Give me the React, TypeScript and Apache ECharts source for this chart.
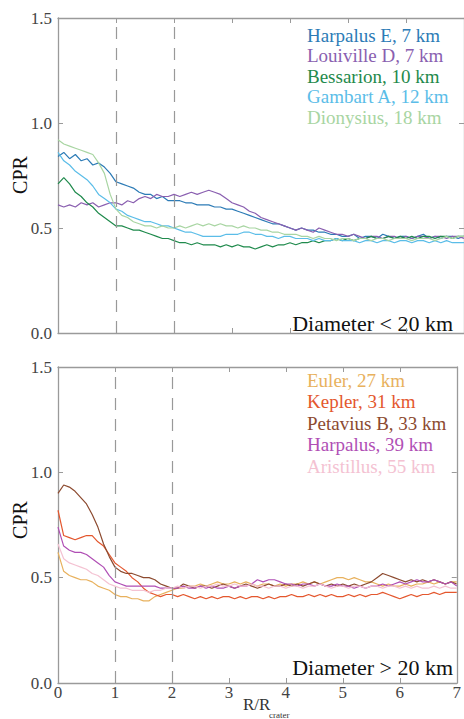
import React, { useEffect, useRef } from "react";
import * as echarts from "echarts";

// sample spacing along R/R_crater: 0.0, 0.1, ... 7.0
const xTicks = ["0", "1", "2", "3", "4", "5", "6", "7"];
const yTicks = ["0.0", "0.5", "1.0", "1.5"];

// ---- Diameter < 20 km ----
const harpalusE = [
  0.84, 0.86, 0.83, 0.85, 0.82, 0.83, 0.80, 0.81, 0.79, 0.76,
  0.72, 0.71, 0.70, 0.69, 0.67, 0.66, 0.66, 0.64, 0.65, 0.63,
  0.63, 0.63, 0.62, 0.62, 0.61, 0.61, 0.61, 0.60, 0.60, 0.59,
  0.59, 0.58, 0.57, 0.56, 0.55, 0.54, 0.53, 0.52, 0.52, 0.51,
  0.50, 0.49, 0.50, 0.49, 0.49, 0.48, 0.48, 0.47, 0.47, 0.46,
  0.46, 0.47, 0.45, 0.46, 0.46, 0.45, 0.47, 0.46, 0.45, 0.46,
  0.46, 0.45, 0.46, 0.47, 0.45, 0.46, 0.45, 0.46, 0.46, 0.45, 0.46,
];
const louivilleD = [
  0.61, 0.60, 0.61, 0.60, 0.62, 0.61, 0.62, 0.60, 0.61, 0.62,
  0.62, 0.61, 0.63, 0.62, 0.64, 0.65, 0.64, 0.66, 0.65, 0.65,
  0.66, 0.65, 0.66, 0.67, 0.66, 0.67, 0.68, 0.67, 0.66, 0.64,
  0.62, 0.61, 0.60, 0.58, 0.57, 0.55, 0.54, 0.53, 0.52, 0.51,
  0.50, 0.49, 0.50, 0.49, 0.48, 0.50, 0.49, 0.48, 0.47, 0.47,
  0.46, 0.47, 0.46, 0.45, 0.46, 0.46, 0.45, 0.46, 0.46, 0.45,
  0.46, 0.45, 0.46, 0.46, 0.45, 0.46, 0.46, 0.45, 0.46, 0.46, 0.45,
];
const bessarion = [
  0.71, 0.74, 0.71, 0.67, 0.65, 0.62, 0.60, 0.57, 0.55, 0.53,
  0.51, 0.51, 0.50, 0.49, 0.49, 0.48, 0.47, 0.46, 0.45, 0.45,
  0.44, 0.43, 0.43, 0.42, 0.43, 0.42, 0.42, 0.42, 0.41, 0.42,
  0.41, 0.42, 0.41, 0.41, 0.40, 0.41, 0.42, 0.41, 0.42, 0.42,
  0.43, 0.42, 0.43, 0.43, 0.44, 0.43, 0.44, 0.44, 0.45, 0.44,
  0.45, 0.44, 0.45, 0.45, 0.46, 0.45, 0.45, 0.46, 0.45, 0.46,
  0.45, 0.46, 0.45, 0.46, 0.46, 0.45, 0.46, 0.46, 0.45, 0.46, 0.46,
];
const gambartA = [
  0.86, 0.82, 0.80, 0.77, 0.75, 0.73, 0.70, 0.66, 0.64, 0.62,
  0.59, 0.58, 0.56, 0.55, 0.54, 0.53, 0.53, 0.52, 0.51, 0.51,
  0.50, 0.49, 0.48, 0.48, 0.47, 0.46, 0.46, 0.46, 0.46, 0.47,
  0.47, 0.47, 0.48, 0.48, 0.47, 0.47, 0.46, 0.46, 0.45, 0.46,
  0.46, 0.45, 0.45, 0.45, 0.44, 0.45, 0.44, 0.44, 0.45, 0.44,
  0.44, 0.44, 0.43, 0.44, 0.44, 0.43, 0.44, 0.44, 0.43, 0.44,
  0.44, 0.43, 0.44, 0.44, 0.43, 0.44, 0.43, 0.44, 0.43, 0.43, 0.43,
];
const dionysius = [
  0.92, 0.90, 0.89, 0.88, 0.87, 0.86, 0.85, 0.81, 0.76, 0.66,
  0.59, 0.56, 0.55, 0.53, 0.52, 0.51, 0.51, 0.50, 0.51, 0.50,
  0.50, 0.51, 0.50, 0.51, 0.52, 0.51, 0.52, 0.51, 0.52, 0.51,
  0.51, 0.50, 0.51, 0.50, 0.50, 0.49, 0.49, 0.48, 0.48, 0.47,
  0.47, 0.47, 0.46, 0.46, 0.45, 0.46, 0.45, 0.45, 0.44, 0.45,
  0.45, 0.44, 0.45, 0.45, 0.44, 0.45, 0.45, 0.44, 0.45, 0.45,
  0.45, 0.44, 0.45, 0.45, 0.45, 0.44, 0.45, 0.46, 0.45, 0.46, 0.46,
];

// ---- Diameter > 20 km ----
const euler = [
  0.62, 0.53, 0.51, 0.50, 0.49, 0.49, 0.48, 0.46, 0.45, 0.44,
  0.42, 0.41, 0.41, 0.40, 0.40, 0.39, 0.39, 0.41, 0.42, 0.43,
  0.44, 0.45, 0.45, 0.46, 0.46, 0.47, 0.46, 0.47, 0.48, 0.47,
  0.47, 0.48, 0.47, 0.48, 0.47, 0.46, 0.47, 0.47, 0.46, 0.47,
  0.46, 0.47, 0.47, 0.48, 0.47, 0.48, 0.47, 0.48, 0.49, 0.50,
  0.50, 0.49, 0.50, 0.49, 0.48, 0.48, 0.47, 0.46, 0.47, 0.46,
  0.46, 0.47, 0.46, 0.47, 0.47, 0.48, 0.47, 0.48, 0.47, 0.48, 0.48,
];
const kepler = [
  0.82, 0.70, 0.69, 0.68, 0.69, 0.70, 0.70, 0.67, 0.65, 0.61,
  0.57, 0.55, 0.53, 0.50, 0.48, 0.45, 0.43, 0.42, 0.41, 0.42,
  0.42, 0.41, 0.42, 0.41, 0.40, 0.41, 0.40, 0.41, 0.40, 0.41,
  0.41, 0.40, 0.41, 0.40, 0.41, 0.41, 0.40, 0.41, 0.40, 0.41,
  0.41, 0.42, 0.41, 0.41, 0.42, 0.41, 0.42, 0.41, 0.42, 0.41,
  0.41, 0.42, 0.41, 0.42, 0.41, 0.42, 0.42, 0.43, 0.42, 0.41,
  0.40, 0.41, 0.42, 0.41, 0.42, 0.42, 0.43, 0.42, 0.43, 0.43, 0.43,
];
const petaviusB = [
  0.90, 0.94, 0.93, 0.91, 0.88, 0.85, 0.80, 0.74, 0.66, 0.60,
  0.55, 0.53, 0.52, 0.52, 0.51, 0.50, 0.50, 0.49, 0.47, 0.46,
  0.45, 0.45, 0.47, 0.46, 0.45, 0.46, 0.46, 0.45, 0.46, 0.47,
  0.46, 0.45, 0.46, 0.47, 0.46, 0.45, 0.46, 0.47, 0.46, 0.46,
  0.47, 0.46, 0.47, 0.46, 0.47, 0.48, 0.47, 0.46, 0.47, 0.46,
  0.47, 0.46, 0.47, 0.46, 0.47, 0.48, 0.50, 0.52, 0.51, 0.50,
  0.49, 0.48, 0.49, 0.48, 0.49, 0.48, 0.49, 0.48, 0.47, 0.48, 0.47,
];
const harpalus = [
  0.74, 0.65, 0.63, 0.62, 0.62, 0.61, 0.59, 0.57, 0.55, 0.51,
  0.48, 0.47, 0.46, 0.46, 0.46, 0.46, 0.46, 0.46, 0.45, 0.45,
  0.45, 0.45, 0.46, 0.45, 0.45, 0.46, 0.45, 0.46, 0.45, 0.45,
  0.46, 0.45, 0.46, 0.46, 0.47, 0.49, 0.48, 0.49, 0.49, 0.48,
  0.47, 0.47, 0.46, 0.47, 0.47, 0.46, 0.47, 0.46, 0.46, 0.47,
  0.46, 0.46, 0.45, 0.46, 0.45, 0.46, 0.46, 0.47, 0.46, 0.47,
  0.48, 0.47, 0.48, 0.49, 0.48, 0.48, 0.49, 0.48, 0.47, 0.48, 0.46,
];
const aristillus = [
  0.66, 0.59, 0.57, 0.56, 0.55, 0.54, 0.52, 0.51, 0.49, 0.47,
  0.46, 0.45, 0.45, 0.44, 0.44, 0.44, 0.43, 0.44, 0.44, 0.45,
  0.45, 0.46, 0.45, 0.46, 0.46, 0.45, 0.46, 0.46, 0.47, 0.46,
  0.46, 0.47, 0.46, 0.46, 0.47, 0.46, 0.46, 0.45, 0.46, 0.46,
  0.45, 0.46, 0.46, 0.45, 0.46, 0.46, 0.47, 0.46, 0.45, 0.46,
  0.46, 0.45, 0.46, 0.46, 0.45, 0.46, 0.46, 0.45, 0.46, 0.46,
  0.45, 0.46, 0.45, 0.46, 0.45, 0.45, 0.46, 0.45, 0.46, 0.45, 0.45,
];

const smallNames = ["Harpalus E, 7 km", "Louiville D, 7 km", "Bessarion, 10 km", "Gambart A, 12 km", "Dionysius, 18 km"];
const smallColors = ["#2c7bb6", "#8a5fb0", "#1f8a4c", "#5bbde8", "#a8d5a2"];
const smallData = [harpalusE, louivilleD, bessarion, gambartA, dionysius];

const largeNames = ["Euler, 27 km", "Kepler, 31 km", "Petavius B, 33 km", "Harpalus, 39 km", "Aristillus, 55 km"];
const largeColors = ["#e8b15d", "#e4572e", "#8c4a2f", "#b04fb5", "#f4c2d2"];
const largeData = [euler, kepler, petaviusB, harpalus, aristillus];

const panelLabels = ["Diameter < 20 km", "Diameter > 20 km"];

const SERIF = "Liberation Serif";
const AXIS_COLOR = "#9a9a9a";

export default function App() {
  const ref = useRef<HTMLDivElement>(null);

  useEffect(() => {
    if (!ref.current) return;
    const chart = echarts.init(ref.current, null, { renderer: "svg" });

    const toPairs = (arr: number[]) => arr.map((v, i) => [i / 10, v]);

    const xAxisBase = (gridIndex: number, position: "top" | "bottom", labels: boolean) => ({
      type: "value",
      gridIndex,
      position,
      min: 0,
      max: 7,
      interval: 1,
      axisLine: { show: true, onZero: false, lineStyle: { color: AXIS_COLOR, width: 1.3 } },
      axisTick: { show: true, inside: true, length: 5, lineStyle: { color: AXIS_COLOR } },
      splitLine: { show: false },
      axisLabel: {
        show: labels,
        margin: 1,
        color: "#444",
        fontFamily: SERIF,
        fontSize: 17,
        formatter: (v: number) => xTicks[Math.round(v)] ?? "",
      },
    });

    const yAxisBase = (gridIndex: number, position: "left" | "right", labels: boolean) => ({
      type: "value",
      gridIndex,
      position,
      min: 0,
      max: 1.5,
      interval: 0.5,
      axisLine: { show: true, onZero: false, lineStyle: { color: AXIS_COLOR, width: 1.3 } },
      axisTick: { show: true, inside: true, length: 5, lineStyle: { color: AXIS_COLOR } },
      splitLine: { show: false },
      axisLabel: {
        show: labels,
        margin: 6,
        color: "#444",
        fontFamily: SERIF,
        fontSize: 17,
        formatter: (v: number) => yTicks[Math.round(v * 2)] ?? "",
      },
    });

    const dashed = {
      silent: true,
      symbol: "none",
      label: { show: false },
      lineStyle: { color: "#999", type: [12, 9], width: 1.2 },
      data: [{ xAxis: 1 }, { xAxis: 2 }],
    };

    const makeSeries = (names: string[], colors: string[], data: number[][], axisIdx: number) =>
      names.map((name, i) => ({
        type: "line",
        name,
        xAxisIndex: axisIdx,
        yAxisIndex: axisIdx,
        data: toPairs(data[i]),
        showSymbol: false,
        symbol: "none",
        lineStyle: { color: colors[i], width: 1.2 },
        itemStyle: { color: colors[i] },
        markLine: i === 0 ? dashed : undefined,
      }));

    const legendTexts = (names: string[], colors: string[], y0: number, step: number) =>
      names.map((name, i) => ({
        type: "text",
        x: 307,
        y: y0 + i * step,
        style: {
          text: name,
          fill: colors[i],
          fontFamily: SERIF,
          fontSize: 19,
          align: "left",
          verticalAlign: "middle",
        },
      }));

    const option = {
      animation: false,
      backgroundColor: "#ffffff",
      textStyle: { fontFamily: SERIF },
      grid: [
        { left: 58, right: 0, top: 18, height: 315 },
        { left: 58, right: 0, top: 367, height: 316 },
      ],
      xAxis: [
        xAxisBase(0, "bottom", false),
        xAxisBase(1, "bottom", true),
        { ...xAxisBase(0, "top", false) },
        { ...xAxisBase(1, "top", false) },
      ],
      yAxis: [
        yAxisBase(0, "left", true),
        yAxisBase(1, "left", true),
        yAxisBase(0, "right", false),
        yAxisBase(1, "right", false),
      ],
      series: [
        ...makeSeries(smallNames, smallColors, smallData, 0),
        ...makeSeries(largeNames, largeColors, largeData, 1),
      ],
      graphic: [
        ...legendTexts(smallNames, smallColors, 35, 20.5),
        ...legendTexts(largeNames, largeColors, 380, 21.5),
        {
          type: "text",
          x: 453,
          y: 323,
          style: { text: panelLabels[0], fill: "#111", fontFamily: SERIF, fontSize: 22, align: "right", verticalAlign: "middle" },
        },
        {
          type: "text",
          x: 453,
          y: 667,
          style: { text: panelLabels[1], fill: "#111", fontFamily: SERIF, fontSize: 22, align: "right", verticalAlign: "middle" },
        },
        {
          type: "text",
          x: 20,
          y: 175,
          rotation: Math.PI / 2,
          style: { text: "CPR", fill: "#111", fontFamily: SERIF, fontSize: 20, align: "center", verticalAlign: "middle" },
        },
        {
          type: "text",
          x: 20,
          y: 520,
          rotation: Math.PI / 2,
          style: { text: "CPR", fill: "#111", fontFamily: SERIF, fontSize: 20, align: "center", verticalAlign: "middle" },
        },
        {
          type: "text",
          x: 243,
          y: 704,
          style: { text: "R/R", fill: "#333", fontFamily: SERIF, fontSize: 17, align: "left", verticalAlign: "middle" },
        },
        {
          type: "text",
          x: 269,
          y: 715,
          style: { text: "crater", fill: "#333", fontFamily: SERIF, fontSize: 9, align: "left", verticalAlign: "middle" },
        },
      ],
    };

    chart.setOption(option as any);
    return () => chart.dispose();
  }, []);

  return (
    <div
      ref={ref}
      style={{ position: "absolute", left: 0, top: 0, width: 464, height: 719 }}
    />
  );
}
